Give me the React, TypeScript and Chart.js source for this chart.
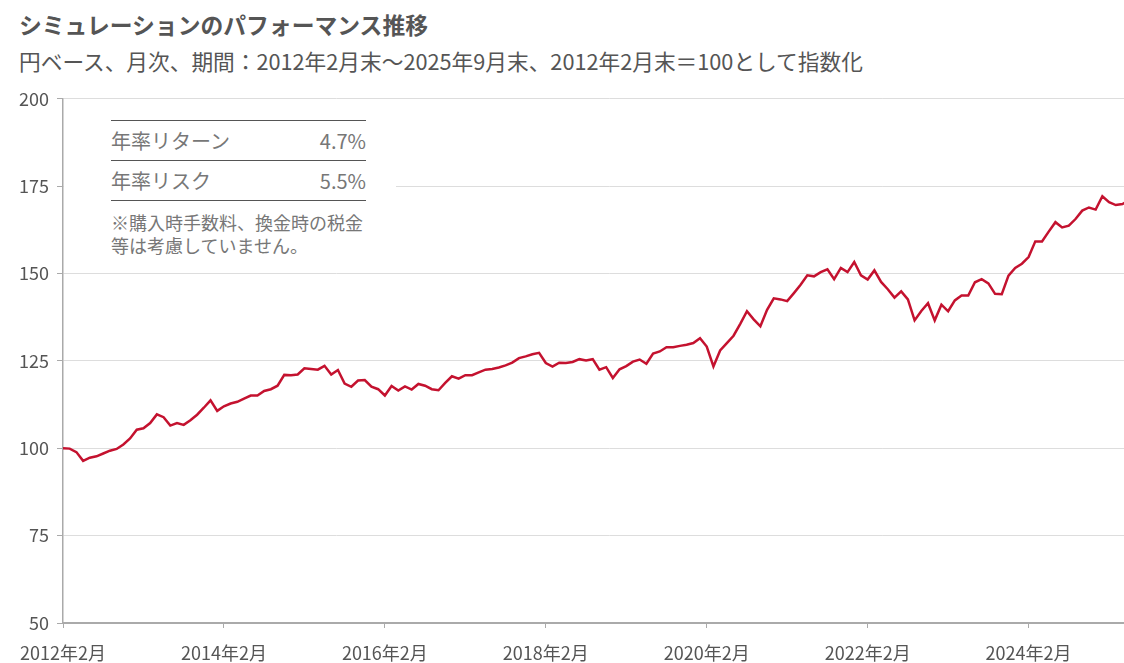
import React, { useEffect, useRef } from "react";
import { Chart, registerables } from "chart.js";

Chart.register(...registerables);

const TITLE = "シミュレーションのパフォーマンス推移";
const SUBTITLE = "円ベース、月次、期間：2012年2月末～2025年9月末、2012年2月末＝100として指数化";

// Monthly index values, 2012-02 .. 2025-09 (164 months)
const VALUES: number[] = [
  100.0, 99.9, 98.9, 96.4, 97.3, 97.7, 98.5, 99.3, 99.8, 101.1, 102.8, 105.3,
  105.7, 107.2, 109.7, 108.9, 106.5, 107.2, 106.7, 108.0, 109.6, 111.6, 113.7, 110.7,
  112.0, 112.8, 113.3, 114.2, 115.1, 115.1, 116.4, 116.9, 117.9, 121.0, 120.9, 121.1,
  122.9, 122.7, 122.5, 123.6, 121.1, 122.4, 118.5, 117.6, 119.4, 119.5, 117.6, 116.9,
  115.1, 117.8, 116.5, 117.7, 116.8, 118.4, 117.9, 116.9, 116.6, 118.7, 120.6, 119.9,
  120.9, 120.9, 121.7, 122.5, 122.7, 123.1, 123.7, 124.5, 125.8, 126.3, 126.9, 127.3,
  124.4, 123.4, 124.5, 124.4, 124.7, 125.5, 125.1, 125.5, 122.5, 123.2, 120.1, 122.6,
  123.5, 124.8, 125.4, 124.2, 127.1, 127.7, 128.9, 128.9, 129.3, 129.6, 130.1, 131.5,
  129.1, 123.4, 128.0, 130.1, 132.2, 135.6, 139.2, 136.9, 134.9, 139.6, 142.9, 142.6,
  142.1, 144.4, 146.8, 149.5, 149.2, 150.4, 151.2, 148.4, 151.6, 150.4, 153.3, 149.5,
  148.3, 150.9, 147.6, 145.5, 143.1, 144.9, 142.6, 136.6, 139.3, 141.5, 136.6, 141.1,
  139.2, 142.3, 143.7, 143.7, 147.5, 148.4, 147.2, 144.2, 144.1, 149.4, 151.6, 152.8,
  154.7, 159.2, 159.2, 162.0, 164.7, 163.2, 163.7, 165.6, 168.0, 168.9, 168.3, 172.1,
  170.4, 169.6, 169.9, 171.0, 172.2, 173.0, 174.1, 175.0,
];

// x tick positions (months since 2012-02) and their labels
const TICK_MONTHS: number[] = [0, 24, 48, 72, 96, 120, 144];
const TICK_LABELS: string[] = [
  "2012年2月", "2014年2月", "2016年2月", "2018年2月", "2020年2月", "2022年2月", "2024年2月",
];

const Y_MIN = 50;
const Y_MAX = 200;
const Y_STEP = 25;

const STAT_LABELS: string[] = ["年率リターン", "年率リスク"];
const STAT_VALUES: string[] = ["4.7%", "5.5%"];
const NOTE_LINES: string[] = ["※購入時手数料、換金時の税金", "等は考慮していません。"];

const FONT = "'Noto Sans CJK JP', 'Noto Sans', sans-serif";
const LINE_COLOR = "#c4122f";
const TEXT = "#555555";

export default function App() {
  const ref = useRef<HTMLCanvasElement | null>(null);

  useEffect(() => {
    if (!ref.current) return;
    Chart.defaults.font.family = FONT;
    const chart = new Chart(ref.current, {
      type: "line",
      data: {
        datasets: [
          {
            data: VALUES.map((v, i) => ({ x: i, y: v })),
            borderColor: LINE_COLOR,
            borderWidth: 2.5,
            pointRadius: 0,
            tension: 0,
            fill: false,
          },
        ],
      },
      options: {
        animation: false,
        responsive: false,
        devicePixelRatio: 1,
        layout: { padding: { top: 18.5, right: 14, left: 0, bottom: 0 } },
        plugins: { legend: { display: false }, tooltip: { enabled: false } },
        scales: {
          x: {
            type: "linear",
            min: 0,
            max: VALUES.length - 1,
            afterBuildTicks: (s: any) => {
              s.ticks = TICK_MONTHS.map((v) => ({ value: v }));
            },
            afterFit: (s: any) => {
              s.height = 40;
            },
            ticks: {
              autoSkip: false,
              maxRotation: 0,
              padding: 14,
              color: TEXT,
              font: { size: 18, family: FONT },
              callback: (v: any) => {
                const i = TICK_MONTHS.indexOf(Number(v));
                return i >= 0 ? TICK_LABELS[i] : "";
              },
            },
            grid: {
              drawOnChartArea: false,
              drawTicks: true,
              tickLength: 5,
              color: "#aaaaaa",
            },
            border: { color: "#aaaaaa", width: 2 },
          },
          y: {
            min: Y_MIN,
            max: Y_MAX,
            afterFit: (s: any) => {
              s.width = 63;
            },
            ticks: {
              stepSize: Y_STEP,
              padding: 8,
              color: TEXT,
              font: { size: 18, family: FONT },
            },
            grid: {
              color: "#dddddd",
              tickColor: "#aaaaaa",
              tickLength: 6,
              lineWidth: 1,
            },
            border: { color: "#aaaaaa", width: 1.5 },
          },
        },
      },
    });
    return () => chart.destroy();
  }, []);

  return (
    <div
      style={{
        position: "fixed",
        left: 0,
        top: 0,
        width: 1124,
        height: 663,
        overflow: "hidden",
        background: "#fff",
        fontFamily: FONT,
      }}
    >
      <div
        style={{
          position: "absolute",
          left: 19,
          top: 11,
          fontSize: 22.8,
          lineHeight: "28px",
          fontWeight: 700,
          color: TEXT,
          whiteSpace: "nowrap",
        }}
      >
        {TITLE}
      </div>
      <div
        style={{
          position: "absolute",
          left: 19,
          top: 47,
          fontSize: 21.7,
          lineHeight: "28px",
          color: TEXT,
          whiteSpace: "nowrap",
        }}
      >
        {SUBTITLE}
      </div>
      <canvas
        ref={ref}
        width={1170}
        height={583}
        style={{ position: "absolute", left: 0, top: 80, width: 1170, height: 583 }}
      />
      <div
        style={{
          position: "absolute",
          left: 64,
          top: 106,
          width: 332,
          height: 160,
          background: "#fff",
        }}
      >
        {[0, 1, 2].map((k) => (
          <div
            key={"l" + k}
            style={{
              position: "absolute",
              left: 47,
              top: 14 + k * 40,
              width: 255,
              height: 1,
              background: "#555",
            }}
          />
        ))}
        {STAT_LABELS.map((s, k) => (
          <div
            key={"s" + k}
            style={{
              position: "absolute",
              left: 47,
              top: 21 + k * 40,
              width: 255,
              height: 28,
              lineHeight: "28px",
              fontSize: 20,
              color: "#777",
              display: "flex",
              justifyContent: "space-between",
            }}
          >
            <span>{s}</span>
            <span>{STAT_VALUES[k]}</span>
          </div>
        ))}
        {NOTE_LINES.map((t, k) => (
          <div
            key={"n" + k}
            style={{
              position: "absolute",
              left: 47,
              top: 104 + k * 23,
              lineHeight: "24px",
              fontSize: 18,
              color: "#777",
              whiteSpace: "nowrap",
            }}
          >
            {t}
          </div>
        ))}
      </div>
    </div>
  );
}
